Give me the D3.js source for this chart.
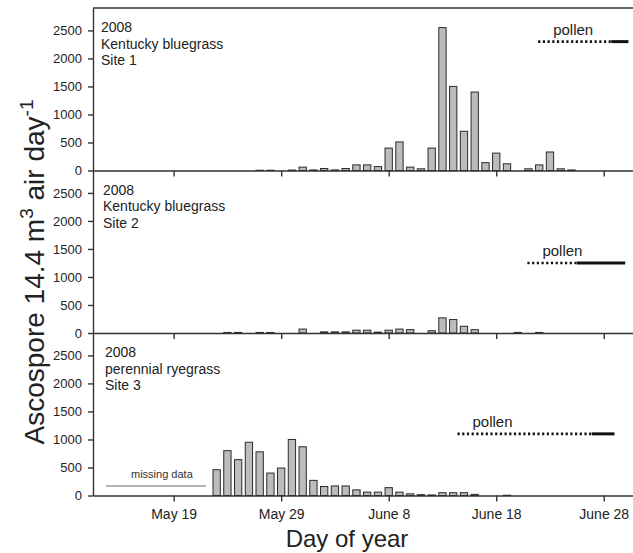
<!DOCTYPE html>
<html>
<head>
<meta charset="utf-8">
<script src="https://cdn.jsdelivr.net/npm/d3@7"></script>
<style>
  body { margin: 0; background: #fff; }
  svg { font-family: "Liberation Sans", Arial, sans-serif; }
  .axis path, .axis line { stroke: #333; stroke-width: 1.4; }
  .axis text { fill: #222; font-size: 13px; }
</style>
</head>
<body>
<div id="chart"></div>
<script>
// day of year (2008), one bar per day
var site1Days   = [148, 149, 151, 152, 153, 154, 155, 156, 157, 158, 159, 160, 161, 162, 163, 164, 165, 166, 167, 168, 169, 170, 171, 173, 174, 175, 176, 177];
var site1Values = [5, 5, 8, 60, 10, 35, 10, 35, 100, 100, 70, 400, 510, 60, 30, 400, 2550, 1500, 700, 1400, 140, 310, 120, 30, 100, 330, 30, 10];

var site2Days   = [145, 146, 148, 149, 152, 154, 155, 156, 157, 158, 159, 160, 161, 162, 164, 165, 166, 167, 168, 172, 174];
var site2Values = [10, 10, 10, 10, 70, 20, 20, 20, 50, 50, 15, 50, 70, 60, 40, 270, 240, 120, 60, 10, 10];

var site3Days   = [144, 145, 146, 147, 148, 149, 150, 151, 152, 153, 154, 155, 156, 157, 158, 159, 160, 161, 162, 163, 164, 165, 166, 167, 168, 171];
var site3Values = [460, 800, 640, 950, 780, 400, 490, 1000, 870, 270, 160, 170, 170, 100, 60, 60, 140, 60, 30, 15, 10, 50, 50, 50, 20, 5];

var panelLines = [["2008", "Kentucky bluegrass", "Site 1"],
                  ["2008", "Kentucky bluegrass", "Site 2"],
                  ["2008", "perennial ryegrass", "Site 3"]];

// pollen season: [dotted start, solid start, end] in day of year, and level
var pollenDays  = [[173.9, 180.7, 182.3], [172.9, 177.5, 182], [166.4, 178.9, 181]];
var pollenLevel = [2300, 1250, 1100];

// missing data at site 3
var missingDays  = [133.7, 143];
var missingLevel = 170;

var yTicks = [0, 500, 1000, 1500, 2000, 2500];
var xTicks = [140, 150, 160, 170, 180];
var xTickLabels = ["May 19", "May 29", "June 8", "June 18", "June 28"];

var svgWidth = 633;
var svgHeight = 553;

var margin = { left: 93, right: -3 };
var panelTop = [8, 170.5, 333];
var panelH = 162.5;

var svg = d3.select("#chart")
  .append("svg")
  .attr("width", svgWidth)
  .attr("height", svgHeight);

var x = d3.scaleLinear()
  .domain([132.5, 183])
  .range([margin.left, svgWidth - margin.right]);

var barW = (x(1) - x(0)) * 0.68;

var sites = [
  { days: site1Days, values: site1Values },
  { days: site2Days, values: site2Values },
  { days: site3Days, values: site3Values }
];

sites.forEach(function (site, i) {
  var top = panelTop[i];
  var y = d3.scaleLinear()
    .domain([0, 2900])
    .range([top + panelH, top]);

  var g = svg.append("g");

  // bars
  g.selectAll("rect")
    .data(site.days.map(function (d, k) { return { day: d, value: site.values[k] }; }))
    .enter()
    .append("rect")
    .attr("x", d => x(d.day) - barW / 2)
    .attr("y", d => y(d.value))
    .attr("width", barW)
    .attr("height", d => y(0) - y(d.value))
    .style("fill", "#bcbcbc")
    .style("stroke", "#2a2a2a")
    .style("stroke-width", 1);

  // axes
  g.append("g")
    .attr("class", "axis")
    .attr("transform", `translate(${margin.left}, 0)`)
    .call(d3.axisLeft(y).tickValues(yTicks).tickSize(5).tickSizeOuter(0).tickPadding(6)
      .tickFormat(d3.format("d")));

  g.append("g")
    .attr("class", "axis")
    .attr("transform", `translate(0, ${top + panelH})`)
    .call(d3.axisBottom(x).tickValues(xTicks).tickSize(6).tickSizeOuter(0).tickPadding(8)
      .tickFormat((d, k) => i === 2 ? xTickLabels[k] : ""))
    .selectAll("text").style("font-size", "14px");

  if (i === 0) {
    g.append("line")
      .attr("x1", margin.left).attr("x2", svgWidth)
      .attr("y1", top).attr("y2", top)
      .style("stroke", "#333").style("stroke-width", 1.4);
  }

  // panel label
  var lab = g.append("text")
    .attr("x", margin.left + 8 + i * 2)
    .attr("y", top + 24)
    .style("font-size", "14px")
    .style("fill", "#222");
  panelLines[i].forEach(function (t, k) {
    lab.append("tspan")
      .attr("x", margin.left + 8 + i * 2)
      .attr("dy", k === 0 ? 0 : 16.5)
      .text(t);
  });

  // pollen season
  var pd = pollenDays[i];
  g.append("line")
    .attr("x1", x(pd[0])).attr("x2", x(pd[1]))
    .attr("y1", y(pollenLevel[i])).attr("y2", y(pollenLevel[i]))
    .style("stroke", "#111").style("stroke-width", 2.6)
    .style("stroke-dasharray", "2.2,2.5");
  g.append("line")
    .attr("x1", x(pd[1])).attr("x2", x(pd[2]))
    .attr("y1", y(pollenLevel[i])).attr("y2", y(pollenLevel[i]))
    .style("stroke", "#111").style("stroke-width", 3);
  g.append("text")
    .attr("x", x(pd[0]) + 35)
    .attr("y", y(pollenLevel[i]) - 7)
    .attr("text-anchor", "middle")
    .style("font-size", "15px")
    .style("fill", "#222")
    .text("pollen");

  if (i === 2) {
    g.append("line")
      .attr("x1", x(missingDays[0])).attr("x2", x(missingDays[1]))
      .attr("y1", y(missingLevel)).attr("y2", y(missingLevel))
      .style("stroke", "#444").style("stroke-width", 0.8);
    g.append("text")
      .attr("x", (x(missingDays[0]) + x(missingDays[1])) / 2 + 6)
      .attr("y", y(missingLevel) - 8)
      .attr("text-anchor", "middle")
      .style("font-size", "11px")
      .style("fill", "#333")
      .text("missing data");
  }
});

// axis titles
svg.append("text")
  .attr("x", 347)
  .attr("y", 547)
  .attr("text-anchor", "middle")
  .style("font-size", "24px")
  .style("fill", "#222")
  .text("Day of year");

var yt = svg.append("text")
  .attr("transform", "translate(44, 272) rotate(-90)")
  .attr("text-anchor", "middle")
  .style("font-size", "28px")
  .style("fill", "#222");
yt.append("tspan").text("Ascospore 14.4 m");
yt.append("tspan").attr("dy", -11).style("font-size", "19px").text("3");
yt.append("tspan").attr("dy", 11).text(" air day");
yt.append("tspan").attr("dy", -11).style("font-size", "19px").text("-1");
</script>
</body>
</html>
